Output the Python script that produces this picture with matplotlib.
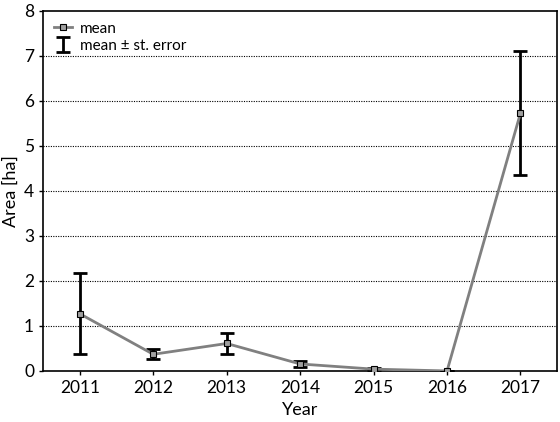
import numpy as np
import matplotlib
matplotlib.use('Agg')
from matplotlib import pyplot as plt

years = [2011, 2012, 2013, 2014, 2015, 2016, 2017]
mean_area = [1.27, 0.37, 0.61, 0.155, 0.04, 0.0, 5.73]
st_error = [0.90, 0.11, 0.23, 0.075, 0.02, 0.0, 1.38]

plt.rcParams['font.family'] = ['Lato', 'DejaVu Sans']
plt.rcParams['font.size'] = 12

fig = plt.figure(figsize=(5.6, 4.22), dpi=100)
ax = fig.add_axes([0.077, 0.121, 0.918, 0.853])

ax.errorbar(years, mean_area, yerr=st_error, fmt='none', ecolor='black',
            elinewidth=2, capsize=5, capthick=2, zorder=2, label='mean ± st. error')
ax.plot(years, mean_area, color='#808080', lw=2, marker='s', ms=5,
        mfc='#a0a0a0', mec='black', mew=0.8, zorder=3, label='mean')

ax.set_xlim(2010.5, 2017.5)
ax.set_ylim(0, 8)
ax.set_xticks(years)
ax.set_yticks(range(0, 9))
for yv in range(1, 8):
    ax.axhline(yv, color='black', lw=0.8, ls=(0, (1, 1.2)), zorder=1)

ax.set_xlabel('Year', fontsize=13, labelpad=4)
ax.set_ylabel('Area [ha]', fontsize=13, labelpad=4)
ax.tick_params(direction='out', length=3, width=1, labelsize=12.5)
for s in ax.spines.values():
    s.set_linewidth(1.2)

h, l = ax.get_legend_handles_labels()
order = [l.index('mean'), l.index('mean ± st. error')]
ax.legend([h[i] for i in order], [l[i] for i in order], loc='upper left',
          frameon=False, fontsize=11, handlelength=1.2, handletextpad=0.5,
          labelspacing=0.2, borderaxespad=0.3, markerscale=0.8)

plt.savefig('out.png', dpi=100)
